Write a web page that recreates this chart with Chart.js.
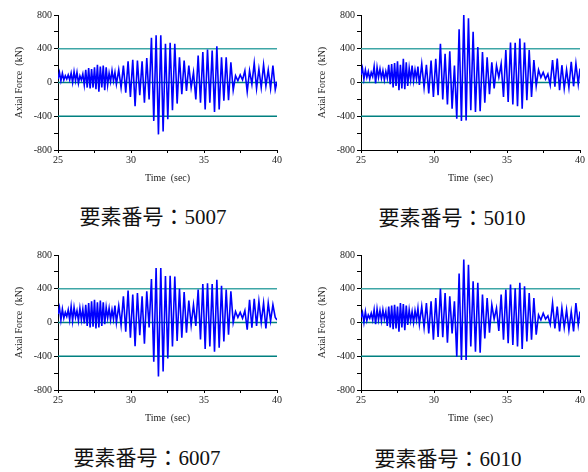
<!DOCTYPE html>
<html>
<head>
<meta charset="utf-8">
<script src="https://cdn.jsdelivr.net/npm/chart.js@4.4.0/dist/chart.umd.min.js"></script>
<style>
body { margin:0; background:#fff; width:588px; height:472px; overflow:hidden; position:relative; }
.box { position:absolute; }
.label { position:absolute; width:200px; text-align:center; font-family:"Liberation Serif","Noto Sans CJK JP",serif; font-size:21px; line-height:20px; color:#111; }
</style>
</head>
<body>
<div class="box" style="left:0px;top:0px"><canvas id="c5007" width="286" height="196"></canvas></div>
<div class="box" style="left:303px;top:0px"><canvas id="c5010" width="286" height="196"></canvas></div>
<div class="box" style="left:0px;top:240px"><canvas id="c6007" width="286" height="196"></canvas></div>
<div class="box" style="left:303px;top:240px"><canvas id="c6010" width="286" height="196"></canvas></div>
<div class="label" id="t5007" style="left:53px;top:207px"></div>
<div class="label" id="t5010" style="left:352px;top:208px"></div>
<div class="label" id="t6007" style="left:47px;top:448px"></div>
<div class="label" id="t6010" style="left:348px;top:449px"></div>
<script>
// time axis (sec)
var timeSec = [
	25.0, 25.1, 25.2, 25.3, 25.4, 25.5, 25.6, 25.7, 25.8, 25.9,
	26.0, 26.1, 26.2, 26.3, 26.4, 26.5, 26.6, 26.7, 26.8, 26.9,
	27.0, 27.1, 27.2, 27.3, 27.4, 27.5, 27.6, 27.7, 27.8, 27.9,
	28.0, 28.1, 28.2, 28.3, 28.4, 28.5, 28.6, 28.7, 28.8, 28.9,
	29.0,
	29.16, 29.32, 29.48, 29.64, 29.8, 29.96, 30.12, 30.28, 30.44, 30.6,
	30.76, 30.92, 31.08, 31.24, 31.4, 31.56, 31.72, 31.88, 32.04, 32.2,
	32.36, 32.52, 32.68, 32.84, 33.0, 33.16, 33.32, 33.48, 33.64, 33.8,
	33.96, 34.12, 34.28, 34.44, 34.6, 34.76, 34.92, 35.08, 35.24, 35.4,
	35.56, 35.72, 35.88, 36.04, 36.2, 36.36, 36.52, 36.68, 36.84, 37.0,
	37.16, 37.32, 37.48, 37.64, 37.8, 37.96, 38.12, 38.28, 38.44, 38.6,
	38.76, 38.92, 39.08, 39.24, 39.4, 39.56, 39.72, 39.88, 40.0
];

// axial force (kN)
var force5007 = [
	40,120,20,110,30,80,40,90,30,110,
	0,130,20,120,-10,80,30,100,-30,150,
	-60,170,-70,160,-60,180,-80,210,-110,190,
	-60,200,-90,180,-30,110,10,140,20,120,
	-20,
	150,-60,200,-120,250,-170,270,-280,260,-150,
	250,-240,290,-200,530,-455,560,-615,560,-580,
	460,-435,470,-330,460,-250,300,-140,260,-100,
	200,-60,120,-200,320,-240,360,-320,390,-240,
	380,-350,430,-320,300,-215,300,-210,240,-90,
	80,20,90,30,140,-110,140,-20,230,-70,
	160,-60,210,-40,150,-70,200,-85,10
];
var force5010 = [
	90,170,40,150,60,130,40,120,70,190,
	-10,180,60,160,50,140,30,130,50,210,
	-20,220,-60,230,-40,250,-90,210,-70,280,
	-80,240,-40,170,30,200,20,150,40,190,
	-30,
	220,-60,210,-130,260,-170,280,-150,460,-200,
	340,-260,370,-310,200,-430,630,-455,800,-450,
	760,-330,600,-350,420,-340,360,-240,300,-140,
	240,-70,200,60,220,-170,385,-230,475,-260,
	470,-280,520,-310,475,-210,385,-170,265,-40,
	150,60,120,40,100,-30,265,-50,285,-90,
	205,-70,150,-60,245,-45,225,-20,165
];
var force6007 = [
	100,180,30,160,50,120,70,150,30,190,
	20,180,60,140,20,170,30,160,-10,210,
	-40,230,-60,250,-50,270,-70,240,-60,260,
	-40,240,-20,180,50,170,30,150,40,200,
	0,
	200,-30,310,-110,380,-180,330,-280,350,-150,
	310,-250,370,-60,515,-465,645,-640,645,-580,
	550,-425,555,-285,545,-220,400,-180,360,-120,
	260,-30,210,-40,390,-200,455,-315,465,-285,
	455,-345,505,-300,435,-225,390,-145,370,0,
	130,60,120,50,140,-85,270,-60,280,-40,
	250,0,230,-70,230,20,210,60,30
];
var force6010 = [
	60,120,0,130,20,90,50,110,30,150,
	-20,160,30,140,20,150,40,130,-40,190,
	-60,200,-80,210,-70,190,-110,230,-60,220,
	-90,200,-30,150,20,130,0,140,30,170,
	-20,
	190,-60,230,-130,250,-205,290,-170,400,-175,
	350,-240,310,-130,250,-405,580,-445,745,-445,
	685,-285,490,-345,470,-357,330,-190,290,-120,
	210,40,170,-100,330,-205,390,-245,450,-265,
	405,-285,470,-315,430,-225,350,-205,290,-145,
	90,30,110,40,80,-20,230,-70,190,-105,
	170,-60,150,-90,130,-105,230,-30,130
];

var refLevels = [400, 0, -400];
var elementNames = ['5007', '5010', '6007', '6010'];
var elementForces = [force5007, force5010, force6007, force6010];

var serif = 'Liberation Serif';

var refLines = {
	id: 'refLines',
	beforeDatasetsDraw: function(chart) {
		var ctx = chart.ctx;
		var area = chart.chartArea;
		var y = chart.scales.y;
		ctx.save();
		refLevels.forEach(function(v) {
			var py = y.getPixelForValue(v);
			ctx.strokeStyle = v > 0 ? '#3ea6a6' : '#008080';
			ctx.lineWidth = 1.5;
			ctx.beginPath();
			ctx.moveTo(area.left, py);
			ctx.lineTo(area.right, py);
			ctx.stroke();
		});
		ctx.restore();
	}
};

var makeChart = function(name, values)
{
	var points = timeSec.map(function(t, i) { return {x: t, y: values[i]}; });
	new Chart(document.getElementById('c' + name), {
		type: 'line',
		data: {
			datasets: [{
				data: points,
				borderColor: '#0000ff',
				borderWidth: 1.6,
				pointRadius: 0,
				tension: 0,
				fill: false
			}]
		},
		options: {
			responsive: false,
			animation: false,
			layout: { padding: { left: 0, right: 9, top: 15, bottom: 0 } },
			plugins: { legend: { display: false }, tooltip: { enabled: false } },
			scales: {
				x: {
					type: 'linear', min: 25, max: 40,
					ticks: {
						stepSize: 2.5, autoSkip: false, maxRotation: 0, padding: 1,
						color: '#222', font: { family: serif, size: 10 },
						callback: function(v) { return v % 5 === 0 ? v : ''; }
					},
					grid: { drawOnChartArea: false, tickLength: 3, color: '#000' },
					border: { color: '#000', width: 1 },
					title: { display: true, text: 'Time  (sec)', color: '#222', font: { family: serif, size: 10 }, padding: { top: 0, bottom: 12 } },
					afterFit: function(s) { s.height = 46; }
				},
				y: {
					min: -800, max: 800,
					ticks: {
						stepSize: 200, autoSkip: false, padding: 2,
						color: '#222', font: { family: serif, size: 10 },
						callback: function(v) { return v % 400 === 0 ? v : ''; }
					},
					grid: { drawOnChartArea: false, tickLength: 4, color: '#000' },
					border: { color: '#000', width: 1 },
					title: { display: true, text: 'Axial Force  (kN)', color: '#222', font: { family: serif, size: 10 }, padding: { top: 13, bottom: 0 } },
					afterFit: function(s) { s.width = 58; }
				}
			}
		},
		plugins: [refLines]
	});
	document.getElementById('t' + name).textContent = '要素番号：' + name;
}

elementNames.forEach(function(name, i) {
	makeChart(name, elementForces[i]);
});
</script>
</body>
</html>
